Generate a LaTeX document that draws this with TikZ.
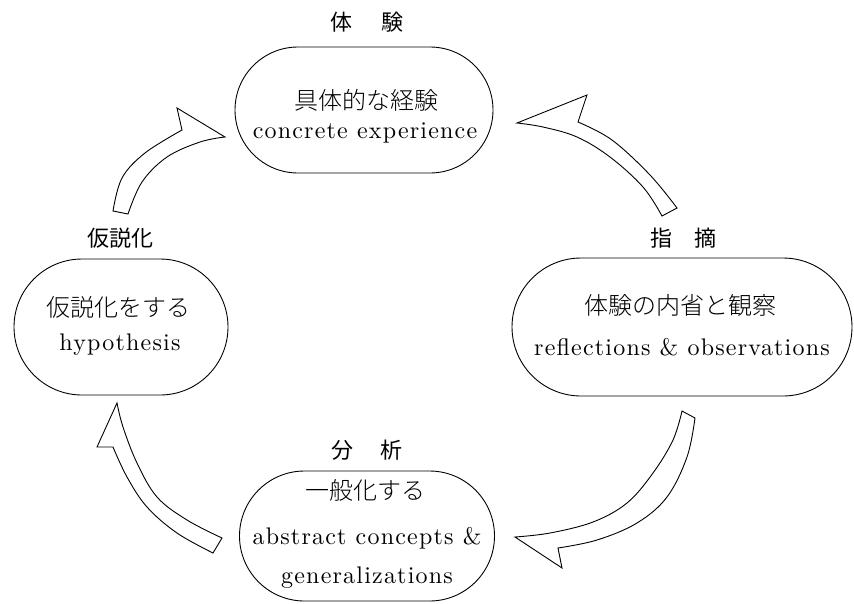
\documentclass[tikz,border=0pt]{standalone}
\usepackage{fontspec}
\usetikzlibrary{shapes.misc}
\newfontfamily\jp{Noto Sans CJK JP}
\IfFontExistsTF{Noto Sans CJK JP Light}{\newfontfamily\jpl{Noto Sans CJK JP Light}}{\newfontfamily\jpl{Noto Sans CJK JP}}
\newfontfamily\enfont{lmroman10-regular.otf}[LetterSpace=5]
\begin{document}
\begin{tikzpicture}[x=1pt,y=-1pt,
  box/.style={draw, line width=0.9pt, rounded rectangle, inner sep=0pt},
  lbl/.style={font=\jp\fontsize{22}{26}\selectfont, inner sep=0pt},
  jptxt/.style={font=\jpl\fontsize{24}{28}\selectfont, inner sep=0pt},
  entxt/.style={font=\enfont\fontsize{24}{28}\selectfont, inner sep=0pt},
  barrow/.style={draw, fill=white, line width=0.9pt, line join=miter}]
\useasboundingbox (0,0) rectangle (854,603);

% boxes
\node[box, minimum width=258pt, minimum height=126pt] (ce) at (364,110) {};
\node[box, minimum width=214pt, minimum height=136pt] (hy) at (121,327) {};
\node[box, minimum width=340pt, minimum height=138pt] (ro) at (682,327) {};
\node[box, minimum width=255pt, minimum height=130pt] (ac) at (367,536) {};

% headings
\node[lbl] (ceh) at (367,22) {体\hspace{1.3em}験};
\node[lbl] (hyh) at (120,238) {仮説化};
\node[lbl] (roh) at (683,238) {指\hspace{1em}摘};
\node[lbl] (ach) at (367,450) {分\hspace{1.2em}析};

% texts
\node[jptxt] (cej) at (366,100) {具体的な経験};
\node[entxt] (cee) at (365,133) {concrete experience};
\node[jptxt] (hyj) at (118,307) {仮説化をする};
\node[entxt] (hye) at (120,345) {hypothesis};
\node[jptxt] (roj) at (680,305) {体験の内省と観察};
\node[entxt] (roe) at (682,347) {reflections \& observations};
\node[jptxt] (acj) at (365,490) {一般化する};
\node[entxt] (ace) at (367,538) {abstract concepts \&};
\node[entxt] (acg) at (367,578) {generalizations};

% block arrows
% top-left: hypothesis -> concrete experience
\draw[barrow] plot[smooth, tension=0.6] coordinates {(113,211) (122,178) (145,153) (182,130)}
  -- (177,108) -- (225,137)
  -- plot[smooth, tension=0.6] coordinates {(225,137) (200,142) (167,157) (142,182) (128,214)} -- cycle;
% top-right: reflections -> concrete experience
\draw[barrow] (517,123) -- (587,95) -- (578,122)
  -- plot[smooth, tension=0.6] coordinates {(578,122) (612,140) (650,175) (677,208)}
  -- (662,216)
  -- plot[smooth, tension=0.6] coordinates {(662,216) (643,187) (610,157) (577,137) (543,127) (517,123)} -- cycle;
% bottom-right: reflections -> abstract concepts
\draw[barrow] (682,411) -- (695,418)
  -- plot[smooth, tension=0.6] coordinates {(695,418) (687,457) (667,497) (637,523) (597,540) (558,548)}
  -- (562,568) -- (515,537)
  -- plot[smooth, tension=0.6] coordinates {(515,537) (550,533) (593,522) (627,503) (653,473) (673,440) (682,411)} -- cycle;
% bottom-left: abstract concepts -> hypothesis
\draw[barrow] (117,403) -- (97,447) -- (113,447)
  -- plot[smooth, tension=0.6] coordinates {(113,447) (127,477) (147,507) (177,533) (213,553)}
  -- (222,538)
  -- plot[smooth, tension=0.6] coordinates {(222,538) (187,520) (157,497) (137,463) (123,427) (117,403)} -- cycle;
\end{tikzpicture}
\end{document}
